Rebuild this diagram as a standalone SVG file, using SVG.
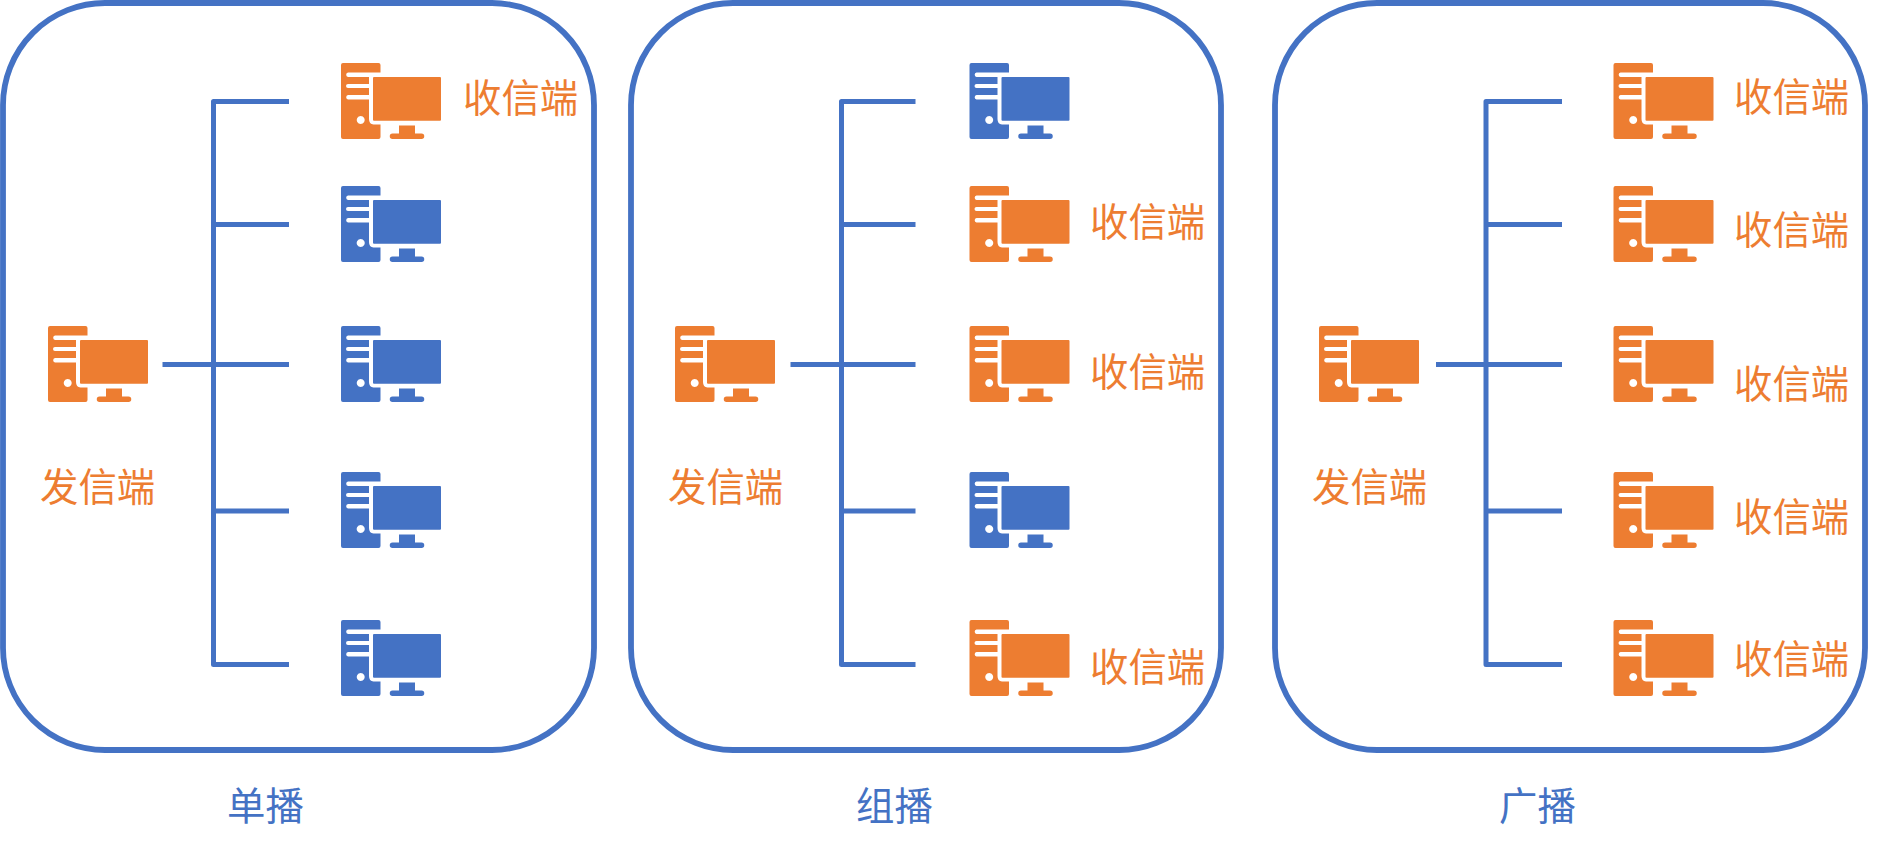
<svg xmlns="http://www.w3.org/2000/svg" width="1878" height="850" viewBox="0 0 1878 850">
<style>
.o{fill:#ED7D31}.b{fill:#4472C4}
.box{fill:none;stroke:#4472C4;stroke-width:5.8}
.wire{fill:none;stroke:#4472C4;stroke-width:5;stroke-linejoin:round}
text{font-family:"Noto Sans CJK SC","Liberation Sans",sans-serif;font-size:38.4px;font-weight:400}
</style>
<defs>
<symbol id="pc" viewBox="0 0 100 76" width="100" height="76" overflow="visible">
<path fill-rule="evenodd" d="M2 0H37.5a2 2 0 0 1 2 2V9.5H7a2.300 2.300 0 0 0 0 4.500H28V21H7a2 2 0 0 0 0 4H28V32H7a2.300 2.300 0 0 0 0 4.500H28V56q0 5 4.500 5.500H39.500V74a2 2 0 0 1-2 2H2a2 2 0 0 1-2-2V2a2 2 0 0 1 2-2ZM19.700 53a4 4 0 1 0 .01 0Z"/>
<path d="M33 14H99a1 1 0 0 1 1 1V56.800a1 1 0 0 1-1 1H33a1 1 0 0 1-1-1V15a1 1 0 0 1 1-1Z"/>
<path d="M58 62.500H74V70.500H80.500a2.700 2.700 0 0 1 0 5.500H51.500a2.700 2.700 0 0 1 0-5.500H58Z"/>
</symbol>
</defs>
<rect width="1878" height="850" fill="#fff"/>
<g id="frames">
<rect id="frame-unicast" class="box" x="3" y="3" width="591" height="747" rx="102" ry="102"/>
<rect id="frame-multicast" class="box" x="631" y="3" width="590" height="747" rx="102" ry="102"/>
<rect id="frame-broadcast" class="box" x="1275" y="3" width="590" height="747" rx="102" ry="102"/>
</g>
<g id="connectors">
<path class="wire" d="M289 101.500H213.500V664.500H289M213.500 224.500H289M162.500 364.500H289M213.500 511H289"/>
<path class="wire" d="M915.500 101.500H841.500V664.500H915.500M841.500 224.500H915.500M790.500 364.500H915.500M841.500 511H915.500"/>
<path class="wire" d="M1562 101.500H1486V664.500H1562M1486 224.500H1562M1436 364.500H1562M1486 511H1562"/>
</g>
<g id="unicast-sender" class="o"><use href="#pc" x="48" y="326"/><text x="40" y="501">发信端</text></g>
<g id="unicast-r1" class="o"><use href="#pc" x="341" y="63"/><text x="463" y="112">收信端</text></g>
<g id="unicast-r2" class="b"><use href="#pc" x="341" y="186"/></g>
<g id="unicast-r3" class="b"><use href="#pc" x="341" y="326"/></g>
<g id="unicast-r4" class="b"><use href="#pc" x="341" y="472"/></g>
<g id="unicast-r5" class="b"><use href="#pc" x="341" y="620"/></g>
<g id="multicast-sender" class="o"><use href="#pc" x="675" y="326"/><text x="668" y="501">发信端</text></g>
<g id="multicast-r1" class="b"><use href="#pc" x="969.500" y="63"/></g>
<g id="multicast-r2" class="o"><use href="#pc" x="969.500" y="186"/><text x="1090" y="236">收信端</text></g>
<g id="multicast-r3" class="o"><use href="#pc" x="969.500" y="326"/><text x="1090" y="386">收信端</text></g>
<g id="multicast-r4" class="b"><use href="#pc" x="969.500" y="472"/></g>
<g id="multicast-r5" class="o"><use href="#pc" x="969.500" y="620"/><text x="1090" y="681">收信端</text></g>
<g id="broadcast-sender" class="o"><use href="#pc" x="1319" y="326"/><text x="1312" y="501">发信端</text></g>
<g id="broadcast-r1" class="o"><use href="#pc" x="1613.500" y="63"/><text x="1734" y="111">收信端</text></g>
<g id="broadcast-r2" class="o"><use href="#pc" x="1613.500" y="186"/><text x="1734" y="244">收信端</text></g>
<g id="broadcast-r3" class="o"><use href="#pc" x="1613.500" y="326"/><text x="1734" y="398">收信端</text></g>
<g id="broadcast-r4" class="o"><use href="#pc" x="1613.500" y="472"/><text x="1734" y="531">收信端</text></g>
<g id="broadcast-r5" class="o"><use href="#pc" x="1613.500" y="620"/><text x="1734" y="673">收信端</text></g>
<g id="titles" class="b">
<text x="227" y="820">单播</text>
<text x="856" y="820">组播</text>
<text x="1499" y="820">广播</text>
</g>
</svg>
